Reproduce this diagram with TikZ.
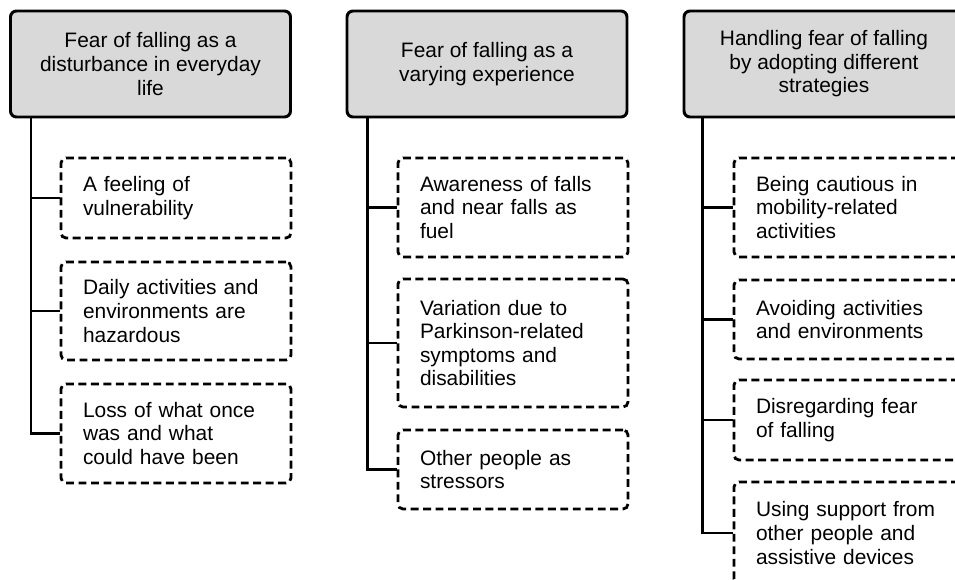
\documentclass[tikz,border=0pt]{standalone}
\usepackage{fontspec}
\setmainfont{Liberation Sans}
\usetikzlibrary{calc}

\definecolor{headgray}{RGB}{217,217,217}

\begin{document}
\begin{tikzpicture}[
        theme/.style={draw=black,fill=headgray,line width=1.7pt,rounded corners=0.12cm,
            minimum width=5.6cm,minimum height=2.12cm,align=center,inner sep=0,
            font=\fontsize{11.9pt}{13.4pt}\selectfont},
        subtheme/.style={draw=black,fill=white,line width=1.6pt,dash pattern=on 4.5pt off 2.6pt,
            rounded corners=0.1cm,text width=3.72cm,align=left,inner xsep=0.44cm,inner ysep=0,
            font=\fontsize{11.9pt}{13.4pt}\selectfont},
        link/.style={line width=1.7pt}
    ]
        \useasboundingbox (0,0) rectangle (19.1,11.6);
        \clip (0,0) rectangle (19.1,11.6);

        % Themes
        \node[theme] (h1) at (3.01,10.32) {Fear of falling as a\\disturbance in everyday\\life};
        \node[theme] (h2) at (9.74,10.32) {Fear of falling as a\\varying experience};
        \node[theme] (h3) at (16.48,10.32) {Handling fear of falling\\by adopting different\\strategies};

        % Subthemes
        \node[subtheme,minimum height=1.6cm] (c11) at (3.52,7.64) {A feeling of\\vulnerability};
        \node[subtheme,minimum height=1.96cm] (c12) at (3.52,5.38) {Daily activities and\\environments are\\hazardous};
        \node[subtheme,minimum height=1.98cm] (c13) at (3.52,2.93) {Loss of what once\\was and what\\could have been};

        \node[subtheme,minimum height=1.98cm] (c21) at (10.26,7.45) {Awareness of falls\\and near falls as\\fuel};
        \node[subtheme,minimum height=2.56cm] (c22) at (10.26,4.74) {Variation due to\\Parkinson-related\\symptoms and\\disabilities};
        \node[subtheme,minimum height=1.58cm] (c23) at (10.26,2.21) {Other people as\\stressors};

        \node[subtheme,minimum height=1.98cm] (c31) at (16.98,7.45) {Being cautious in\\mobility-related\\activities};
        \node[subtheme,minimum height=1.58cm] (c32) at (16.98,5.21) {Avoiding activities\\and environments};
        \node[subtheme,minimum height=1.6cm] (c33) at (16.98,3.2) {Disregarding fear\\of falling};
        \node[subtheme,minimum height=2.04cm] (c34) at (16.98,0.94) {Using support from\\other people and\\assistive devices};

        % Edges
        \foreach \h/\d/\c in {h1/0.44/c11, h1/0.44/c12, h1/0.44/c13,
                              h2/0.44/c21, h2/0.44/c22, h2/0.44/c23,
                              h3/0.39/c31, h3/0.39/c32, h3/0.39/c33, h3/0.39/c34} {
            \draw[link] ([xshift=\d cm]\h.south west) |- (\c.west);
        }
    \end{tikzpicture}
\end{document}
